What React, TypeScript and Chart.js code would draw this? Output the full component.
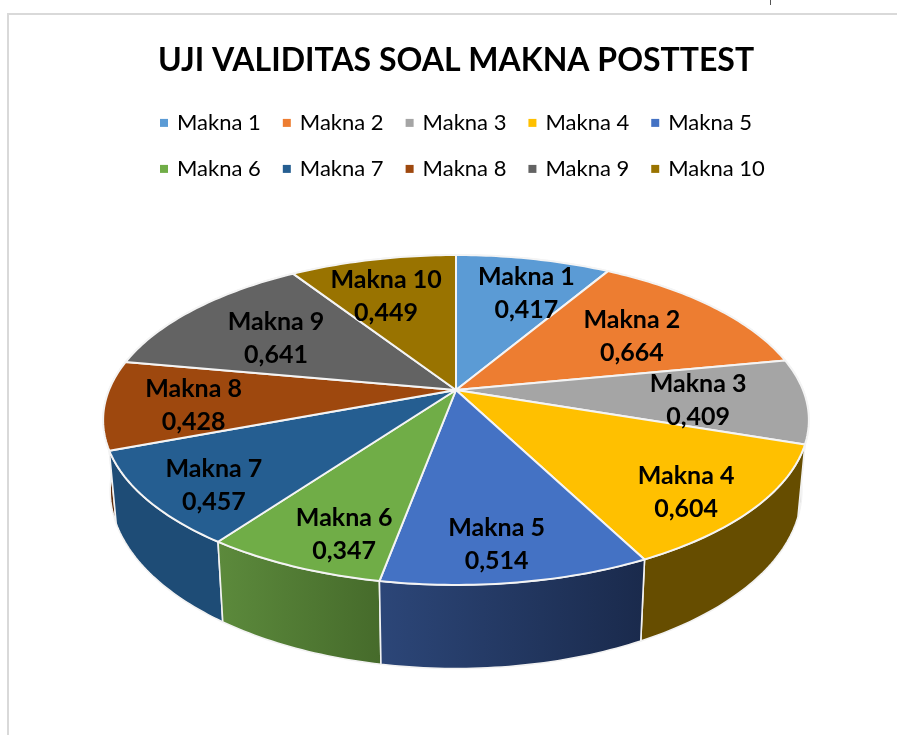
import React, { useEffect, useRef } from "react";
import Chart from "chart.js/auto";

const chartTitle = "UJI VALIDITAS SOAL MAKNA POSTTEST";
const categories = ["Makna 1", "Makna 2", "Makna 3", "Makna 4", "Makna 5", "Makna 6", "Makna 7", "Makna 8", "Makna 9", "Makna 10"];
const seriesValues = [0.417, 0.664, 0.409, 0.604, 0.514, 0.347, 0.457, 0.428, 0.641, 0.449];

const topColors = ["#5B9BD5", "#ED7D31", "#A5A5A5", "#FFC000", "#4472C4", "#70AD47", "#255E91", "#9E480E", "#636363", "#997300"];
const wallFrom = ["#375D80", "#8E4B1D", "#636363", "#664D00", "#2C4678", "#5C8A3C", "#1E4C76", "#5F2B08", "#3B3B3B", "#5C4500"];
const wallTo = ["#375D80", "#8E4B1D", "#636363", "#664D00", "#1A2A4C", "#466B2B", "#1E4C76", "#5F2B08", "#3B3B3B", "#5C4500"];
const labelNudges: [number, number][] = [[10, 5], [-21, 10], [-20, 2], [14, 16], [-3, 17], [5, 18], [-17, 15], [0, 4], [21, 10], [-5, 7]];

const FONT = "Lato, Carlito, sans-serif";
const APEX_X = 456;
const APEX_Y = 390;
const DISC_X = 347;
const DISC_Y = 159.5;
const PERSP = -0.1818;
const WALL_SCALE_X = 0.98;
const WALL_SCALE_Y = 1.08;
const WALL_SHIFT = 68;
const LABEL_RADIUS = 0.75;

// Projects a polar position on the pie (angle from 12 o'clock, radius 0-1) to the tilted disc.
function topPoint(theta: number, r = 1): [number, number] {
  const u = r * Math.sin(theta);
  const v = -r * Math.cos(theta);
  const d = 1 + PERSP * v;
  return [APEX_X + (DISC_X * u) / d, APEX_Y + (DISC_Y * v) / d];
}
function bottomPoint(theta: number): [number, number] {
  const [x, y] = topPoint(theta);
  return [APEX_X + (x - APEX_X) * WALL_SCALE_X, APEX_Y + WALL_SHIFT + (y - APEX_Y) * WALL_SCALE_Y];
}
function arcSamples(a: number, b: number): number[] {
  const n = Math.max(2, Math.ceil(((b - a) * 180) / Math.PI));
  const out: number[] = [];
  for (let i = 0; i <= n; i++) out.push(a + ((b - a) * i) / n);
  return out;
}

const framePlugin = {
  id: "frame",
  // The legend needs an off-centre box for its rows to start where they do; the title stays centred on the pie.
  afterLayout(chart: any) {
    const t = chart.titleBlock;
    const shift = (t.left + t.right) / 2 - APEX_X;
    t.left -= shift;
    t.right -= shift;
  },
  beforeDraw(chart: any) {
    const { ctx, width, height } = chart;
    ctx.save();
    ctx.fillStyle = "#FFFFFF";
    ctx.fillRect(0, 0, width, height);
    ctx.fillStyle = "#D9D9D9";
    ctx.fillRect(7, 13, width - 7, 2);
    ctx.fillRect(7, 13, 2, height - 13);
    ctx.fillStyle = "#555555";
    ctx.fillRect(770, 0, 1, 5);
    ctx.restore();
  },
};

const tiltedPiePlugin = {
  id: "tiltedPie",
  beforeDatasetDraw(chart: any, args: any) {
    const { ctx } = chart;
    const arcs = args.meta.data;
    const q = Math.PI / 2;
    const spans = arcs.map((arc: any, i: number) => ({ i, a: arc.startAngle + q, b: arc.endAngle + q }));

    const order = [...spans].sort((p, s) => -Math.cos((p.a + p.b) / 2) - -Math.cos((s.a + s.b) / 2));
    ctx.save();
    ctx.lineJoin = "round";
    for (const { i, a, b } of order) {
      const ts = arcSamples(a, b);
      const grad = ctx.createLinearGradient(Math.min(topPoint(a)[0], topPoint(b)[0]), 0, Math.max(topPoint(a)[0], topPoint(b)[0]), 0);
      grad.addColorStop(0, wallFrom[i]);
      grad.addColorStop(1, wallTo[i]);
      ctx.beginPath();
      ts.forEach((t, k) => {
        const [x, y] = topPoint(t);
        if (k === 0) ctx.moveTo(x, y);
        else ctx.lineTo(x, y);
      });
      [...ts].reverse().forEach((t) => {
        const [x, y] = bottomPoint(t);
        ctx.lineTo(x, y);
      });
      ctx.closePath();
      ctx.fillStyle = grad;
      ctx.fill();
      ctx.strokeStyle = "#F2F2F2";
      ctx.lineWidth = 1.6;
      ctx.stroke();
    }
    for (const { i, a, b } of spans) {
      ctx.beginPath();
      ctx.moveTo(APEX_X, APEX_Y);
      arcSamples(a, b).forEach((t) => {
        const [x, y] = topPoint(t);
        ctx.lineTo(x, y);
      });
      ctx.closePath();
      ctx.fillStyle = topColors[i];
      ctx.fill();
      ctx.strokeStyle = "#F4F4F4";
      ctx.lineWidth = 2;
      ctx.stroke();
    }
    ctx.fillStyle = "#000000";
    ctx.font = `bold 25px ${FONT}`;
    ctx.textAlign = "center";
    ctx.textBaseline = "middle";
    for (const { i, a, b } of spans) {
      const [x, y] = topPoint((a + b) / 2, LABEL_RADIUS);
      const [nx, ny] = labelNudges[i];
      ctx.fillText(categories[i], x + nx, y + ny - 16);
      ctx.fillText(seriesValues[i].toFixed(3).replace(".", ","), x + nx, y + ny + 17);
    }
    ctx.restore();
    return false;
  },
};

export default function App() {
  const ref = useRef<HTMLCanvasElement | null>(null);
  useEffect(() => {
    const chart = new Chart(ref.current as HTMLCanvasElement, {
      type: "pie",
      data: {
        labels: categories,
        datasets: [{ data: seriesValues, backgroundColor: topColors, borderColor: "#FFFFFF", borderWidth: 0 }],
      },
      options: {
        responsive: false,
        animation: false,
        layout: { padding: { left: 138, right: 40, top: 41, bottom: 20 } },
        plugins: {
          tooltip: { enabled: false },
          title: {
            display: true,
            text: chartTitle,
            color: "#000000",
            font: { family: FONT, size: 32, weight: "bold" },
            padding: { top: 0, bottom: 8.5 },
          },
          legend: {
            position: "top",
            align: "start",
            labels: {
              color: "#111111",
              font: { family: FONT, size: 22 },
              boxWidth: 4,
              boxHeight: 4,
              padding: 24,
              generateLabels() {
                return categories.map((text, i) => ({
                  text,
                  index: i,
                  fillStyle: topColors[i],
                  strokeStyle: topColors[i],
                  lineWidth: 4,
                  hidden: false,
                }));
              },
            },
          },
        },
      },
      plugins: [framePlugin, tiltedPiePlugin],
    } as any);
    return () => chart.destroy();
  }, []);
  return (
    <div style={{ position: "absolute", left: 0, top: 0, width: 897, height: 735, overflow: "hidden" }}>
      <canvas ref={ref} width={897} height={735} style={{ display: "block" }} />
    </div>
  );
}
